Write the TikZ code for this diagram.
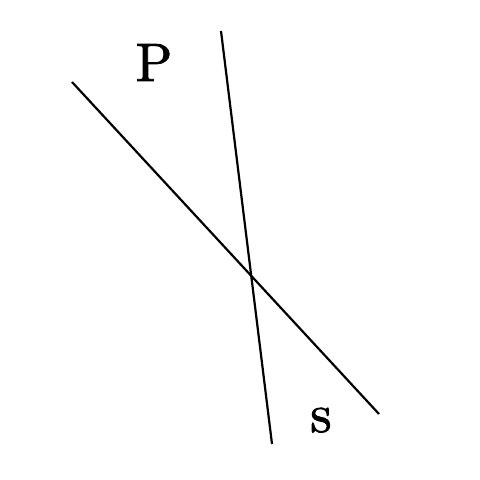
\documentclass[tikz,border=0pt]{standalone}
\usepackage{fontspec}
\newfontfamily\lblfont[FakeBold=1.5]{lmroman10-regular.otf}
\begin{document}
\begin{tikzpicture}[x=1pt,y=-1pt,
  ln/.style={line width=2.2pt,black},
  lbl/.style={font=\lblfont\fontsize{54}{60}\selectfont,inner sep=0pt,anchor=base}]
\useasboundingbox (0,0) rectangle (480,480);
\coordinate (a1) at (72,82);
\coordinate (a2) at (379,414);
\coordinate (b1) at (221,31);
\coordinate (b2) at (272,444);
\draw[ln] (a1) -- (a2);
\draw[ln] (b1) -- (b2);
\node[lbl] (P) at (154,81) {P};
\node[lbl] (s) at (321,432) {s};
\end{tikzpicture}
\end{document}
